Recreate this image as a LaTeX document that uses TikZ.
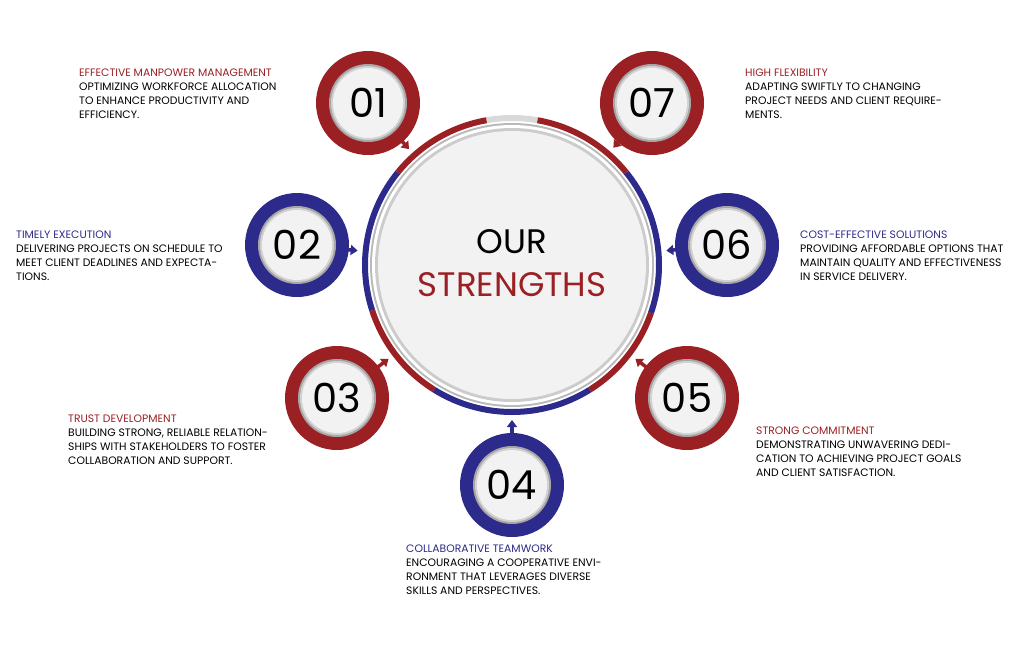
\documentclass[tikz,border=0pt]{standalone}
\usepackage{fontspec}
\setmainfont{Poppins}
\usetikzlibrary{calc,arrows.meta}
\definecolor{sred}{HTML}{9A2024}
\definecolor{sblue}{HTML}{2C2A8A}
\definecolor{disk}{HTML}{F2F2F2}
\begin{document}
\begin{tikzpicture}[x=1pt,y=-1pt,
  small/.style={circle,minimum size=104pt,inner sep=0pt,fill=#1},
  num/.style={font=\fontsize{40}{40}\selectfont},
  body/.style={anchor=north west,align=left,font=\fontsize{10.8}{14}\selectfont,inner sep=0pt},
  arr/.style={draw=#1,line width=3.5pt,-{Triangle[length=7pt,width=10pt]}}]
\useasboundingbox (0,0) rectangle (1024,654);
% centre
\coordinate (O) at (512,265);
\draw[line width=6pt,lightgray!60] (O) ++(-80:147) arc[start angle=-80,end angle=-100,radius=147];
\foreach \a/\b/\c in {100/141/sred,141/198/sblue,198/238/sred,238/302/sblue,302/341/sred,341/399/sblue,399/440/sred}
  \draw[line width=6pt,\c] (O) ++(-\a:147) arc[start angle=-\a,end angle=-\b,radius=147];
\fill[gray!55] (O) circle[radius=142];
\fill[white] (O) circle[radius=140];
\fill[gray!40] (O) circle[radius=137];
\node[circle,fill=disk,minimum size=268pt,inner sep=0pt] (ctr) at (O) {};
\node[font=\fontsize{34}{34}\selectfont] (our) at (512,242) {OUR};
\node[font=\fontsize{34}{34}\selectfont,text=sred] (str) at (512,285) {STRENGTHS};
% small circles
\foreach \n/\x/\y/\c in {01/368/103/sred,07/652/103/sred,02/297/245/sblue,06/727/245/sblue,03/337/398/sred,05/687/398/sred,04/512/485/sblue}{
  \node[small=\c] (c\n) at (\x,\y) {};
  \fill[gray!70] (c\n) circle[radius=39];
  \fill[gray!35] (c\n) circle[radius=37];
  \node[circle,fill=disk,minimum size=70pt,inner sep=0pt,num] (n\n) at (c\n) {\n};
  \draw[arr=\c] ($(c\n)!50pt!(O)$) -- ($(O)!155pt!(c\n)$);
}
% texts
\node[body] (t01) at (79,69) {\textcolor{sred}{EFFECTIVE MANPOWER MANAGEMENT}\\OPTIMIZING WORKFORCE ALLOCATION\\TO ENHANCE PRODUCTIVITY AND\\EFFICIENCY.};
\node[body] (t07) at (745,69) {\textcolor{sred}{HIGH FLEXIBILITY}\\ADAPTING SWIFTLY TO CHANGING\\PROJECT NEEDS AND CLIENT REQUIRE-\\MENTS.};
\node[body] (t02) at (16,231) {\textcolor{sblue}{TIMELY EXECUTION}\\DELIVERING PROJECTS ON SCHEDULE TO\\MEET CLIENT DEADLINES AND EXPECTA-\\TIONS.};
\node[body] (t06) at (800,231) {\textcolor{sblue}{COST-EFFECTIVE SOLUTIONS}\\PROVIDING AFFORDABLE OPTIONS THAT\\MAINTAIN QUALITY AND EFFECTIVENESS\\IN SERVICE DELIVERY.};
\node[body] (t03) at (68,415) {\textcolor{sred}{TRUST DEVELOPMENT}\\BUILDING STRONG, RELIABLE RELATION-\\SHIPS WITH STAKEHOLDERS TO FOSTER\\COLLABORATION AND SUPPORT.};
\node[body] (t05) at (756,427) {\textcolor{sred}{STRONG COMMITMENT}\\DEMONSTRATING UNWAVERING DEDI-\\CATION TO ACHIEVING PROJECT GOALS\\AND CLIENT SATISFACTION.};
\node[body] (t04) at (406,545) {\textcolor{sblue}{COLLABORATIVE TEAMWORK}\\ENCOURAGING A COOPERATIVE ENVI-\\RONMENT THAT LEVERAGES DIVERSE\\SKILLS AND PERSPECTIVES.};
\end{tikzpicture}
\end{document}
